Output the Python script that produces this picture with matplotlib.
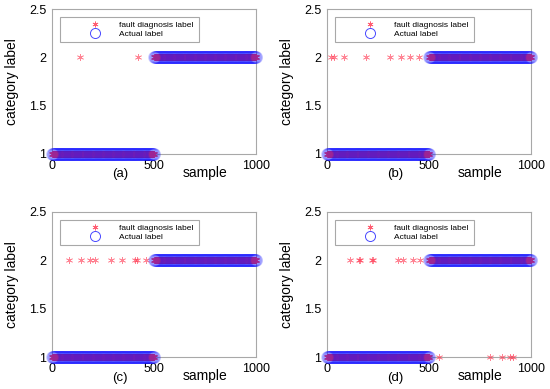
import numpy as np
import matplotlib
matplotlib.use("Agg")
import matplotlib.pyplot as plt
from matplotlib.patches import Rectangle

plt.rcParams["font.family"] = ["Liberation Sans", "DejaVu Sans"]

# samples 1..1000, true class 1 for first half, 2 for second half
samples = np.arange(1, 1001)
actual = np.r_[np.ones(500), np.full(500, 2.0)]

panel_letters = ["(a)", "(b)", "(c)", "(d)"]

# misclassified samples: (sample index, predicted label)
errors_a = [(135, 2), (420, 2)]
errors_b = [(20, 2), (34, 2), (83, 2), (190, 2), (309, 2), (363, 2), (407, 2), (452, 2)]
errors_c = [(83, 2), (141, 2), (186, 2), (211, 2), (289, 2), (342, 2), (407, 2),
            (418, 2), (461, 2)]
errors_d = [(113, 2), (156, 2), (160, 2), (222, 2), (227, 2), (350, 2), (371, 2),
            (420, 2), (456, 2), (549, 1), (799, 1), (859, 1), (897, 1), (913, 1)]
errors_all = [errors_a, errors_b, errors_c, errors_d]

xticks = [0, 500, 1000]
yticks = [1, 1.5, 2, 2.5]
ytick_labels = ["1", "1.5", "2", "2.5"]

FS_TICK = 9
FS_LABEL = 10
FS_LETTER = 9.5
FS_LEG = 6
SPINE = "#a8a8a8"
STAR = (6, 2, 0)   # matlab-like asterisk

fig = plt.figure(figsize=(5.5, 3.89), dpi=100)
fig.patch.set_facecolor("white")

# axes rectangles in figure fraction (left, bottom, width, height)
rects = [
    (52 / 550, 1 - 154 / 389, 204 / 550, 145 / 389),
    (327 / 550, 1 - 154 / 389, 204 / 550, 145 / 389),
    (52 / 550, 1 - 357 / 389, 204 / 550, 145 / 389),
    (327 / 550, 1 - 357 / 389, 204 / 550, 145 / 389),
]

for i, (rect, letter, errs) in enumerate(zip(rects, panel_letters, errors_all)):
    ax = fig.add_axes(rect)
    pred = actual.copy()
    for s, lab in errs:
        pred[s - 1] = lab

    ax.plot(samples, pred, linestyle="none", marker=STAR, markersize=5,
            color=(1.0, 0.2, 0.3), markeredgewidth=0.5, alpha=0.6,
            label="fault diagnosis label", zorder=2, clip_on=False)
    ax.plot(samples, actual, linestyle="none", marker="o", markersize=8.5,
            markerfacecolor="none", markeredgecolor=(0.1, 0.1, 1.0),
            markeredgewidth=0.7, alpha=0.1, label="Actual label", zorder=3,
            clip_on=False)

    ax.set_xlim(0, 1000)
    ax.set_ylim(1, 2.5)
    ax.set_xticks(xticks)
    ax.set_yticks(yticks)
    ax.set_yticklabels(ytick_labels)
    ax.tick_params(length=0, labelsize=FS_TICK, pad=4)
    for sp in ax.spines.values():
        sp.set_color(SPINE)
        sp.set_linewidth(0.8)
        sp.set_zorder(1)

    ax.set_ylabel("category label", fontsize=FS_LABEL)
    ax.yaxis.set_label_coords(-0.16, 0.5)

    ylet = -0.135 if i < 2 else -0.145
    ax.text(0.333, ylet, letter, transform=ax.transAxes, ha="center", va="center",
            fontsize=FS_LETTER)
    ax.text(0.75, -0.13, "sample", transform=ax.transAxes, ha="center",
            va="center", fontsize=FS_LABEL)

    # legend frame drawn by hand, legend itself frameless
    ax.add_patch(Rectangle((0.039, 0.772), 0.68, 0.173, transform=ax.transAxes,
                           facecolor="white", edgecolor=SPINE, linewidth=0.8,
                           zorder=4))
    h, l = ax.get_legend_handles_labels()
    leg = ax.legend(h, l, loc="center left",
                    bbox_to_anchor=(0.12, 0.859), frameon=False,
                    fontsize=FS_LEG, handlelength=3.1, handletextpad=1.3,
                    borderpad=0.2, labelspacing=0.1, markerscale=0.85)
    for lh in leg.legend_handles:
        lh.set_alpha(0.8)
    leg.set_zorder(5)

fig.savefig("out.png", dpi=100, facecolor="white")
